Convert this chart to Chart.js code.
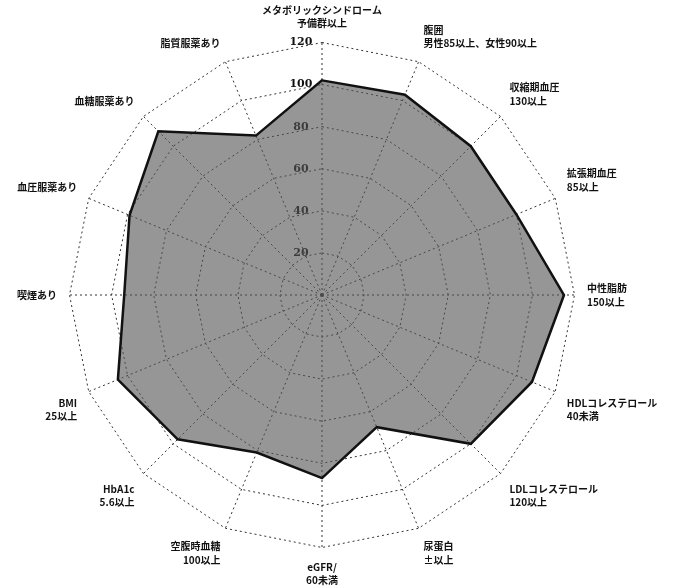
<!DOCTYPE html>
<html>
<head>
<meta charset="utf-8">
<script src="https://cdn.jsdelivr.net/npm/chart.js@4/dist/chart.umd.min.js"></script>
<style>
  html, body { margin: 0; padding: 0; background: #fff; }
  #wrap { width: 675px; height: 588px; }
</style>
</head>
<body>
<div id="wrap"><canvas id="radarChart"></canvas></div>
<script>
const labels = [
    ["メタボリックシンドローム", "予備群以上"],
    ["腹囲", "男性85以上、女性90以上"],
    ["収縮期血圧", "130以上"],
    ["拡張期血圧", "85以上"],
    ["中性脂肪", "150以上"],
    ["HDLコレステロール", "40未満"],
    ["LDLコレステロール", "120以上"],
    ["尿蛋白", "±以上"],
    ["eGFR/", "60未満"],
    ["空腹時血糖", "100以上"],
    ["HbA1c", "5.6以上"],
    ["BMI", "25以上"],
    "喫煙あり",
    "血圧服薬あり",
    "血糖服薬あり",
    "脂質服薬あり"
];
const values = [102, 103, 100, 100, 115, 108, 100, 68, 87, 81, 97, 105, 94, 99, 110, 82];
const tickMin = 0;
const tickMax = 120;
const tickStep = 20;

new Chart(document.getElementById("radarChart"), {
    type: "radar",
    data: {
        labels: labels,
        datasets: [{
            data: values,
            backgroundColor: "rgba(85,85,85,0.62)",
            borderColor: "#111",
            borderWidth: 2.5,
            pointRadius: 0,
            fill: true
        }]
    },
    options: {
        responsive: true,
        maintainAspectRatio: false,
        animation: false,
        layout: { padding: { top: 3, bottom: 0, left: 0, right: 0 } },
        plugins: { legend: { display: false }, tooltip: { enabled: false } },
        scales: {
            r: {
                min: tickMin,
                max: tickMax,
                ticks: {
                    stepSize: tickStep,
                    showLabelBackdrop: false,
                    color: "#111",
                    // trailing spaces push the tick text left of the axis, as in the original
                    callback: v => String(v) + "\u00a0".repeat(11),
                    font: { family: "'DejaVu Serif'", size: 11, weight: "bold" }
                },
                grid: { color: "#333", lineWidth: 1 },
                border: { dash: [2, 3] },
                angleLines: { color: "#333", lineWidth: 1, borderDash: [2, 3] },
                pointLabels: {
                    color: "#111",
                    padding: 5,
                    font: { family: "'Noto Sans CJK JP'", size: 10, weight: "bold", lineHeight: 1.35 }
                }
            }
        }
    }
});
</script>
</body>
</html>
